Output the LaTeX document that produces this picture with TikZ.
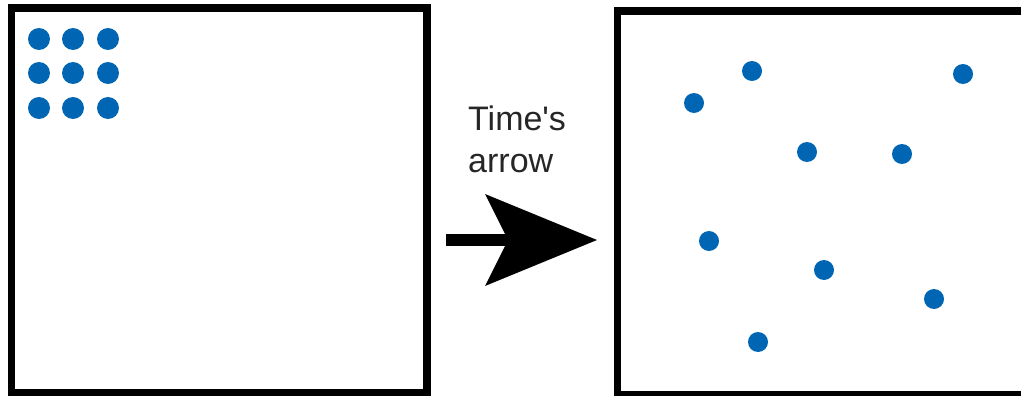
\documentclass[tikz,border=0pt]{standalone}
\usepackage{fontspec}
\setmainfont{Liberation Sans}
\usepackage{xcolor}
\usetikzlibrary{arrows.meta}

\definecolor{dotblue}{RGB}{0,102,179}

\begin{document}
\begin{tikzpicture}[
  x=1pt, y=-1pt,
  panel/.style={rectangle, draw=black, line width=7.5pt, inner sep=0pt, outer sep=0pt},
  particle/.style={circle, fill=dotblue, inner sep=0pt, minimum size=#1},
  particle/.default=20pt,
  timearr/.style={-{Stealth[length=112pt,width=92pt,inset=23pt,line width=0pt]}, line width=12pt, black}
]
\useasboundingbox (0,0) rectangle (1021,396);
\clip (0,0) rectangle (1021,396);

% the two states
\node[panel, minimum width=415.5pt, minimum height=385pt] (before) at (219.25,200.5) {};
\node[panel, minimum width=412.5pt, minimum height=383.5pt] (after) at (823.75,202.75) {};

% ordered start
\foreach \i/\x in {1/39,2/73,3/108}
  \foreach \j/\y in {1/39,2/73,3/108}
    \node[particle=22pt] (p-\i-\j) at (\x,\y) {};

% spread out later
\foreach \x/\y [count=\k] in {752/71,963/74,694/103,807/152,902/154,709/241,824/270,934/299,758/342}
  \node[particle] (q-\k) at (\x,\y) {};

% arrow and its label
\coordinate (tail) at (446,240);
\coordinate (tip) at (597,240);
\draw[timearr] (tail) -- (tip);
\node[anchor=north west, inner sep=0pt, align=left, text=black!85,
      font=\fontsize{34}{42}\selectfont] (label) at (468,106) {Time\textquotesingle s\\arrow};
\end{tikzpicture}
\end{document}
